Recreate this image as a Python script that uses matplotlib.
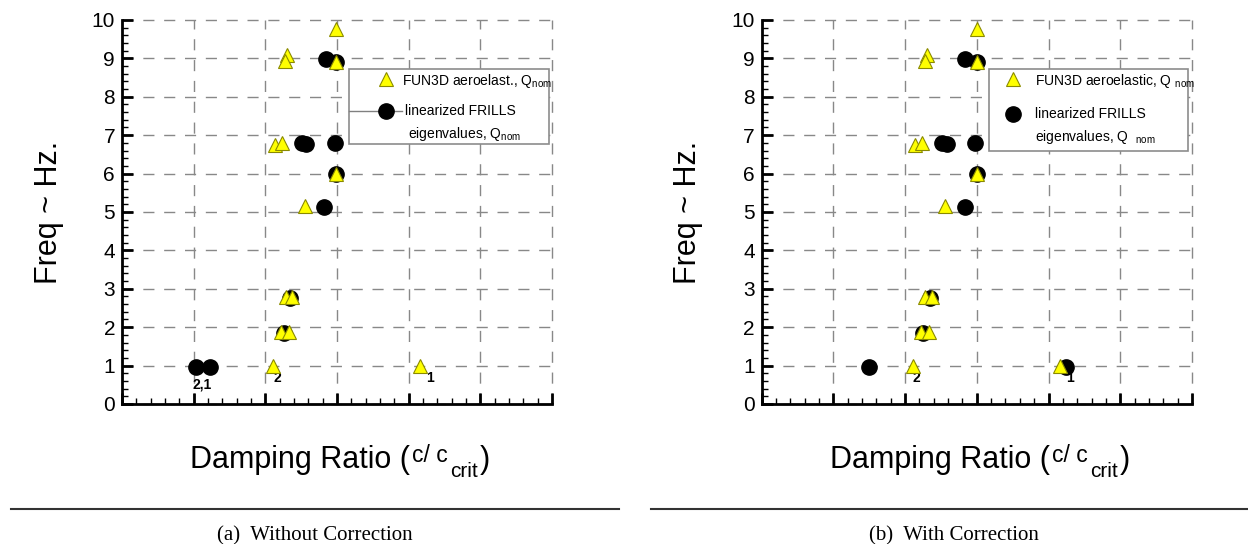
import numpy as np
import matplotlib
matplotlib.use("Agg")
import matplotlib.pyplot as plt
from matplotlib.lines import Line2D
from matplotlib.patches import Rectangle
from matplotlib.ticker import MultipleLocator, NullFormatter

plt.rcParams['font.family'] = ['Liberation Sans', 'DejaVu Sans']
plt.rcParams['mathtext.fontset'] = 'custom'
plt.rcParams['mathtext.rm'] = 'Liberation Sans'

# damping ratio (grid units, no tick labels on the original) and frequency in Hz
fun3d_a_x = [2.99, 2.30, 2.27, 2.99, 2.13, 2.23, 2.99, 2.55, 2.29, 2.37, 2.22, 2.33, 2.10, 4.16]
fun3d_a_f = [9.76, 9.09, 8.94, 8.91, 6.74, 6.79, 5.99, 5.16, 2.78, 2.78, 1.87, 1.87, 0.99, 0.99]
frills_a_x = [2.845, 2.99, 2.51, 2.57, 2.97, 2.99, 2.82, 2.34, 2.26, 1.03, 1.23]
frills_a_f = [8.98, 8.91, 6.79, 6.77, 6.79, 5.99, 5.14, 2.75, 1.84, 0.95, 0.95]

fun3d_b_x = [3.00, 2.30, 2.28, 3.00, 2.14, 2.23, 3.00, 2.56, 2.28, 2.37, 2.22, 2.33, 2.11, 4.16]
fun3d_b_f = [9.76, 9.09, 8.94, 8.91, 6.74, 6.79, 5.99, 5.16, 2.78, 2.78, 1.87, 1.87, 0.99, 0.99]
frills_b_x = [2.84, 3.00, 2.52, 2.58, 2.975, 3.00, 2.83, 2.35, 2.25, 1.49, 4.25]
frills_b_f = [8.98, 8.91, 6.79, 6.77, 6.79, 5.99, 5.14, 2.75, 1.84, 0.95, 0.95]

# mode labels (text, x, f)
labels_a = [("2,1", 1.12, 0.51), ("2", 2.16, 0.68), ("1", 4.30, 0.68)]
labels_b = [("2", 2.15, 0.68), ("1", 4.30, 0.68)]

legend_a = ["FUN3D aeroelast., Q$_{\\rm nom}$", "linearized FRILLS", "eigenvalues, Q$_{\\rm nom}$"]
legend_b = ["FUN3D aeroelastic, Q $_{\\rm nom}$", "linearized FRILLS", "eigenvalues, Q  $_{\\rm nom}$"]

# x label pieces: text, font size, baseline shift (px)
xlab_parts = [("Damping Ratio (", 22, 0), ("c/ c", 16.5, 6), ("crit", 15, -9), (")", 22, 0)]
ylab = "Freq ~ Hz."

tri_face = "#ffff00"
tri_edge = "#8a8a00"

W, H = 1248, 544
fig = plt.figure(figsize=(12.48, 5.44), dpi=100)
ax_a = fig.add_axes([0.0978, 0.2574, 0.3446, 0.7059])
ax_b = fig.add_axes([0.6103, 0.2574, 0.3448, 0.7059])
renderer = fig.canvas.get_renderer()


def setup(ax):
    ax.set_xlim(0, 6)
    ax.set_ylim(0, 10)
    ax.xaxis.set_major_locator(MultipleLocator(1))
    ax.xaxis.set_minor_locator(MultipleLocator(0.2))
    ax.yaxis.set_major_locator(MultipleLocator(1))
    ax.yaxis.set_minor_locator(MultipleLocator(0.2))
    ax.xaxis.set_major_formatter(NullFormatter())
    ax.tick_params(which='major', direction='in', length=8, width=2, labelsize=15, pad=5)
    ax.tick_params(which='minor', direction='in', length=4.5, width=1)
    ax.tick_params(top=False, right=False, which='both')
    for s in ['top', 'right']:
        ax.spines[s].set_visible(False)
    for s in ['left', 'bottom']:
        ax.spines[s].set_linewidth(2)
        ax.spines[s].set_zorder(5)
    ax.grid(True, which='major', color='#888888', lw=1, linestyle=(0, (8, 7)))
    ax.set_axisbelow(True)
    for g in ax.get_xgridlines() + ax.get_ygridlines():
        g.set_clip_on(False)


def legend_box(ax, x0, x1, y0, y1, texts, sub_line, tx, ty, mx, my):
    ax.add_patch(Rectangle((x0, y1), x1 - x0, y0 - y1, transform=ax.transAxes,
                           facecolor='white', edgecolor='#8c8c8c', lw=1.2, zorder=6))
    ax.plot([mx], [my[0]], transform=ax.transAxes, marker='^', ms=10, color=tri_face,
            mec=tri_edge, mew=0.8, ls='none', zorder=7, clip_on=False)
    if sub_line:
        ax.plot([x0, sub_line], [my[1], my[1]], transform=ax.transAxes, color='#808080',
                lw=1, zorder=7, clip_on=False)
    ax.plot([mx], [my[1]], transform=ax.transAxes, marker='o', ms=11, color='black',
            ls='none', zorder=8, clip_on=False)
    for t, x, y in zip(texts, tx, ty):
        ax.text(x, y, t, transform=ax.transAxes, fontsize=10, va='center', ha='left', zorder=8)


def piece_label(xc, ybase, parts, gap=2):
    items = []
    for s, size, dy in parts:
        t = fig.text(0, 0, s, fontsize=size, ha='left', va='baseline')
        items.append((t, t.get_window_extent(renderer).width, dy))
    total = sum(w for _, w, _ in items) + gap * (len(items) - 1)
    x = xc - total / 2
    for t, w, dy in items:
        t.set_position((x / W, (ybase + dy) / H))
        x += w + gap


for ax, fx, ff, cx, cf, labs in [(ax_a, fun3d_a_x, fun3d_a_f, frills_a_x, frills_a_f, labels_a),
                                 (ax_b, fun3d_b_x, fun3d_b_f, frills_b_x, frills_b_f, labels_b)]:
    setup(ax)
    for t, x, y in labs:
        ax.text(x, y, t, fontsize=10, fontweight='bold', ha='center', va='center', zorder=2)
    ax.plot(cx, cf, 'o', ms=11, color='black', ls='none', zorder=3, clip_on=False)
    ax.plot(fx, ff, '^', ms=10, color=tri_face, mec=tri_edge, mew=0.8, ls='none', zorder=4,
            clip_on=False)

legend_box(ax_a, 0.528, 0.993, 0.872, 0.677, legend_a, 0.65,
           [0.65, 0.657, 0.664], [0.84, 0.763, 0.703], 0.613, [0.845, 0.763])
legend_box(ax_b, 0.529, 0.991, 0.872, 0.659, legend_b, None,
           [0.636, 0.636, 0.636], [0.842, 0.756, 0.694], 0.584, [0.845, 0.756])

fig.text(0.039, 0.610, ylab, rotation=90, fontsize=22, ha='center', va='center')
fig.text(0.551, 0.610, ylab, rotation=90, fontsize=22, ha='center', va='center')
piece_label(340, 76, xlab_parts)
piece_label(980, 76, xlab_parts)

fig.add_artist(Line2D([0.0088, 0.496], [0.064, 0.064], color='#333333', lw=1.5))
fig.add_artist(Line2D([0.522, 1.0], [0.064, 0.064], color='#333333', lw=1.5))
fig.text(0.252, 0.006, "(a)  Without Correction", fontsize=15, ha='center', va='baseline',
         family=['Liberation Serif', 'DejaVu Serif'])
fig.text(0.764, 0.006, "(b)  With Correction", fontsize=15, ha='center', va='baseline',
         family=['Liberation Serif', 'DejaVu Serif'])

fig.savefig("out.png", dpi=100)
